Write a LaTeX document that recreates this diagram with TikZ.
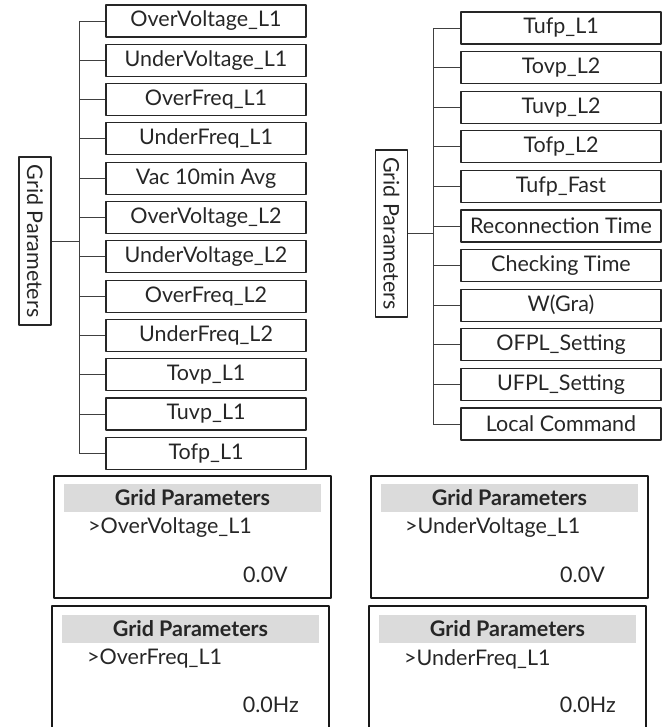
\documentclass[tikz,border=0pt]{standalone}
\usepackage{fontspec}
\setmainfont{Lato}

\tikzset{
  leaf/.style={draw=black!85,line width=1.2pt,minimum width=200pt,minimum height=32pt,inner sep=0pt,font=\fontsize{21.5}{21.5}\selectfont},
  menu/.style={leaf,rotate=-90},
  link/.style={draw=black!75,line width=0.8pt},
  screen/.style={draw=black!90,line width=1.5pt},
  bar/.style={fill=gray!28},
  scrtxt/.style={inner sep=0pt,font=\fontsize{21.5}{21.5}\selectfont}
}

\begin{document}
\begin{tikzpicture}[x=1pt,y=-1pt,line join=round,every node/.style={text=black!85}]
\useasboundingbox (0,0) rectangle (661,727);
% left tree
\foreach \lbl [count=\i] in {OverVoltage\_L1,UnderVoltage\_L1,OverFreq\_L1,UnderFreq\_L1,
  Vac 10min Avg,OverVoltage\_L2,UnderVoltage\_L2,OverFreq\_L2,UnderFreq\_L2,Tovp\_L1,Tuvp\_L1,Tofp\_L1}{
  \node[leaf] (l\i) at (206,{21+(\i-1)*39.3}) {\lbl};
}
\coordinate (lt) at (79,0);
\draw[link] (lt |- l1.west) -- (lt |- l12.west);
\foreach \i in {1,...,12}
  \draw[link] (lt |- l\i.west) -- (l\i.west);
\node[menu,minimum width=168pt] (lg) at (35,241) {Grid Parameters};
\draw[link] (lg.north) -- (lg.north -| lt);

% right tree
\foreach \lbl [count=\i] in {Tufp\_L1,Tovp\_L2,Tuvp\_L2,Tofp\_L2,Tufp\_Fast,Reconnection Time,
  Checking Time,W(Gra),OFPL\_Setting,UFPL\_Setting,Local Command}{
  \node[leaf] (r\i) at (561,{28+(\i-1)*39.6}) {\lbl};
}
\coordinate (rt) at (433,0);
\draw[link] (rt |- r1.west) -- (rt |- r11.west);
\foreach \i in {1,...,11}
  \draw[link] (rt |- r\i.west) -- (r\i.west);
\node[menu,minimum width=167pt] (rg) at (391.5,233.5) {Grid Parameters};
\draw[link] (rg.north) -- (rg.north -| rt);

% screens, upper row
\foreach \sx/\item/\val in {54/OverVoltage\_L1/0.0V,371/UnderVoltage\_L1/0.0V}{
  \draw[screen] (\sx,476) rectangle (\sx+277,598);
  \fill[bar] (\sx+10,484) rectangle (\sx+267,512);
  \node[scrtxt,font=\fontsize{21.5}{21.5}\selectfont\bfseries] (ut\sx) at (\sx+138.5,498) {Grid Parameters};
  \node[scrtxt,anchor=west] (ui\sx) at (\sx+34,528) {>\item};
  \node[scrtxt,anchor=east] (uv\sx) at (\sx+234,575) {\val};
}
% screens, lower row (cut off)
\foreach \sx/\item/\val in {52/OverFreq\_L1/0.0Hz,369/UnderFreq\_L1/0.0Hz}{
  \draw[screen] (\sx,727) -- (\sx,606) -- (\sx+277,606) -- (\sx+277,727);
  \fill[bar] (\sx+10,615) rectangle (\sx+267,643);
  \node[scrtxt,font=\fontsize{21.5}{21.5}\selectfont\bfseries] (bt\sx) at (\sx+138.5,629) {Grid Parameters};
  \node[scrtxt,anchor=west] (bi\sx) at (\sx+35,659) {>\item};
  \node[scrtxt,anchor=east] (bv\sx) at (\sx+247,705) {\val};
}
\end{tikzpicture}
\end{document}
